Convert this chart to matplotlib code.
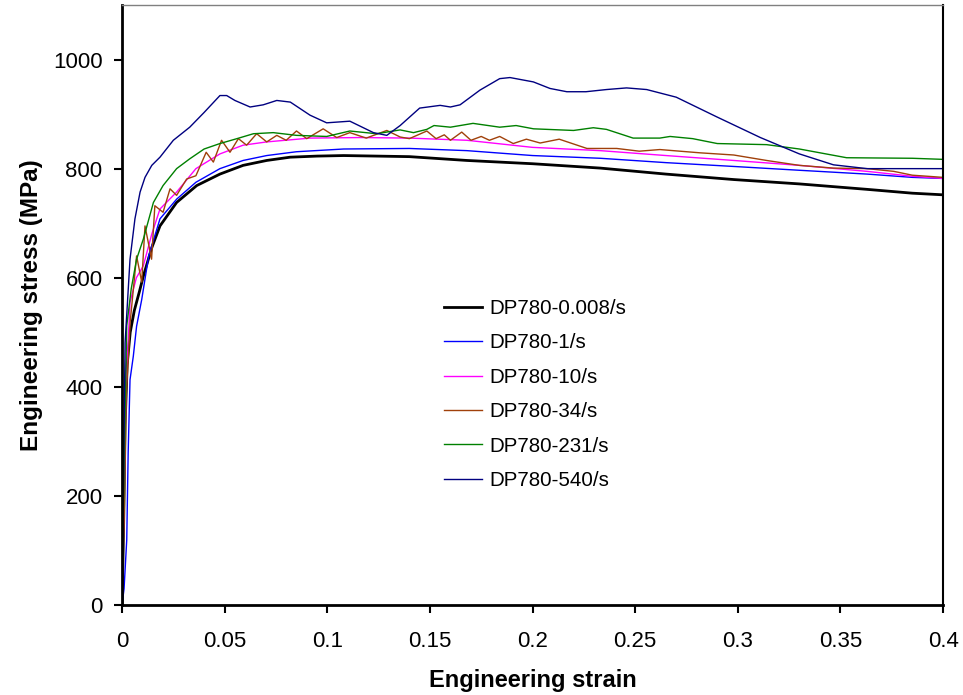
import matplotlib
matplotlib.use("Agg")
from matplotlib import pyplot as plt

plt.rcParams['font.family'] = ['Liberation Sans', 'DejaVu Sans']

# values (strain, MPa)
s_0008 = [0, 0.0008, 0.0015, 0.0025, 0.004, 0.006, 0.0085, 0.0104, 0.0145, 0.0185, 0.0266, 0.0364, 0.0477,
          0.059, 0.0705, 0.0819, 0.095, 0.108, 0.124, 0.140, 0.168, 0.200, 0.233, 0.265, 0.298, 0.330, 0.363,
          0.385, 0.400]
f_0008 = [0, 150, 330, 440, 500, 540, 575, 603, 655, 695, 738, 769, 790, 806, 815, 821, 823, 824, 823, 822,
          815, 809, 801, 790, 780, 772, 762, 755, 752]

s_1 = [0, 0.001, 0.0023, 0.003, 0.0039, 0.0055, 0.0071, 0.0096, 0.013, 0.0185, 0.0266, 0.036, 0.0477, 0.059,
       0.0705, 0.085, 0.108, 0.140, 0.168, 0.200, 0.233, 0.265, 0.298, 0.330, 0.363, 0.385, 0.400]
f_1 = [0, 30, 119, 279, 413, 456, 511, 560, 640, 708, 744, 775, 800, 815, 824, 831, 836, 837, 833, 824, 819,
       811, 804, 797, 790, 784, 782]

s_10 = [0, 0.001, 0.002, 0.0039, 0.007, 0.0104, 0.0145, 0.0185, 0.0266, 0.036, 0.0477, 0.059, 0.0705, 0.0916,
        0.116, 0.140, 0.168, 0.200, 0.233, 0.265, 0.298, 0.330, 0.363, 0.385, 0.400]
f_10 = [0, 200, 400, 555, 600, 622, 680, 726, 757, 800, 827, 843, 849, 856, 857, 856, 852, 839, 833, 824, 815,
        806, 795, 786, 782]

s_34 = [0, 0.001, 0.002, 0.004, 0.0071, 0.0096, 0.0112, 0.0144, 0.016, 0.020, 0.0234, 0.0266, 0.0315, 0.036,
        0.041, 0.0445, 0.0485, 0.0526, 0.0567, 0.0607, 0.0656, 0.0705, 0.0754, 0.080, 0.085, 0.090, 0.098,
        0.1046, 0.111, 0.119, 0.129, 0.1355, 0.140, 0.1485, 0.153, 0.157, 0.160, 0.1655, 0.170, 0.175, 0.179,
        0.184, 0.1906, 0.197, 0.2037, 0.213, 0.2265, 0.241, 0.252, 0.262, 0.2816, 0.298, 0.314, 0.330, 0.3465,
        0.363, 0.376, 0.385, 0.400]
f_34 = [0, 150, 380, 520, 640, 592, 695, 634, 732, 720, 763, 751, 781, 787, 830, 812, 852, 830, 855, 843, 864,
        849, 861, 852, 869, 855, 873, 857, 866, 856, 870, 858, 855, 869, 855, 862, 852, 867, 852, 859, 852, 859,
        846, 854, 847, 854, 837, 837, 832, 835, 829, 825, 815, 806, 801, 800, 795, 788, 784]

s_231 = [0, 0.001, 0.0023, 0.0045, 0.0071, 0.0104, 0.0153, 0.020, 0.0266, 0.033, 0.040, 0.0477, 0.056, 0.064,
         0.0737, 0.085, 0.0997, 0.111, 0.124, 0.1355, 0.142, 0.1485, 0.152, 0.160, 0.171, 0.184, 0.192, 0.2005,
         0.220, 0.2296, 0.236, 0.249, 0.262, 0.267, 0.278, 0.290, 0.314, 0.330, 0.353, 0.385, 0.400]
f_231 = [0, 250, 512, 580, 634, 671, 738, 769, 800, 818, 836, 846, 855, 864, 866, 861, 859, 869, 864, 871, 866,
         872, 879, 876, 883, 876, 879, 873, 870, 875, 872, 856, 856, 859, 855, 846, 844, 836, 820, 819, 817]

s_540 = [0, 0.0008, 0.0015, 0.0039, 0.0063, 0.0088, 0.0112, 0.0145, 0.0185, 0.025, 0.033, 0.040, 0.0477, 0.051,
         0.055, 0.0624, 0.0688, 0.0754, 0.082, 0.0916, 0.0997, 0.111, 0.1225, 0.129, 0.1355, 0.145, 0.155, 0.160,
         0.1647, 0.1744, 0.184, 0.189, 0.2004, 0.2085, 0.2167, 0.226, 0.236, 0.2458, 0.2556, 0.270, 0.2897,
         0.311, 0.330, 0.3466, 0.363, 0.3856, 0.400]
f_540 = [0, 250, 481, 634, 708, 757, 784, 806, 821, 852, 876, 903, 934, 934, 925, 913, 917, 925, 922, 898, 884,
         887, 866, 861, 879, 911, 916, 913, 917, 944, 965, 967, 959, 947, 941, 941, 945, 948, 945, 931, 895, 857,
         827, 807, 800, 800, 800]

labels = ["DP780-0.008/s", "DP780-1/s", "DP780-10/s", "DP780-34/s", "DP780-231/s", "DP780-540/s"]
colors = ["black", "#0000FF", "#FF00FF", "#A0400A", "#008000", "#000080"]
widths = [2.0, 1.0, 1.0, 1.0, 1.0, 1.0]

fig = plt.figure(figsize=(9.63, 6.95), dpi=100)
ax = fig.add_axes([0.1267, 0.1295, 0.8526, 0.8633])

data = [(s_0008, f_0008), (s_1, f_1), (s_10, f_10), (s_34, f_34), (s_231, f_231), (s_540, f_540)]
for (x, y), lab, c, lw in zip(data, labels, colors, widths):
	ax.plot(x, y, color=c, linewidth=lw, label=lab)

ax.set_xlim(0, 0.4)
ax.set_ylim(0, 1100)
ax.set_xticks([0, 0.05, 0.1, 0.15, 0.2, 0.25, 0.3, 0.35, 0.4])
ax.set_xticklabels(["0", "0.05", "0.1", "0.15", "0.2", "0.25", "0.3", "0.35", "0.4"])
ax.set_yticks([0, 200, 400, 600, 800, 1000])
ax.tick_params(axis='both', direction='out', length=6, width=1.5, labelsize=16, pad=8)
ax.tick_params(axis='x', pad=13)

ax.set_xlabel("Engineering strain", fontsize=17, fontweight='bold', labelpad=12)
ax.set_ylabel("Engineering stress (MPa)", fontsize=17.5, fontweight='bold', labelpad=7)

ax.spines['left'].set_linewidth(2)
ax.spines['bottom'].set_linewidth(2)
ax.spines['right'].set_linewidth(1.5)
ax.spines['top'].set_linewidth(1)
ax.spines['top'].set_color('#808080')

ax.legend(loc='upper left', bbox_to_anchor=(0.392, 0.51), frameon=False, fontsize=14.8,
          handlelength=1.85, handletextpad=0.35, labelspacing=0.75, borderpad=0, borderaxespad=0)

fig.savefig("out.png", dpi=100)
